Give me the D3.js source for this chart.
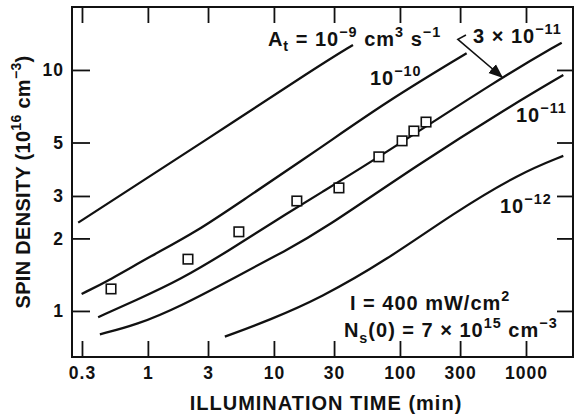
<!DOCTYPE html>
<html>
<head>
<meta charset="utf-8">
<script src="https://cdn.jsdelivr.net/npm/d3@7"></script>
<style>
  body { margin: 0; background: #fff; }
  svg { display: block; }
  text { font-family: "Liberation Sans", Arial, sans-serif; font-weight: bold; fill: #111; }
</style>
</head>
<body>
<script>
// illumination time (min) and spin density (1e16 cm^-3)
const xTicks = [0.3, 1, 3, 10, 30, 100, 300, 1000];
const yTicks = [1, 2, 3, 5, 10];

const dataTime = [0.51, 2.08, 5.27, 15.2, 32.8, 68, 104, 129, 161];
const dataSpin = [1.234, 1.64, 2.13, 2.86, 3.24, 4.36, 5.08, 5.58, 6.08];

// theory curves for different A_t
const curve1e9 = [[0.280, 2.325], [0.531, 2.888], [2.587, 4.93], [23.2, 10.49], [42.4, 12.70]];
const curve1e10 = [[0.298, 1.176], [0.499, 1.345], [1.037, 1.680], [2.435, 2.133], [5.71, 2.888], [23.2, 4.73], [78.4, 7.39], [338, 11.73]];
const curve3e11 = [[0.403, 0.942], [0.813, 1.111], [1.795, 1.345], [4.47, 1.79], [10.5, 2.386], [23.2, 3.078], [69.4, 4.37], [622, 9.24], [1920, 12.98]];
const curve1e11 = [[0.416, 0.800], [0.813, 0.875], [1.795, 1.042], [5.06, 1.388], [12.6, 1.79], [23.2, 2.133], [144, 4.10], [703, 6.93], [1977, 9.53]];
const curve1e12 = [[4.08, 0.782], [9.29, 0.918], [23.2, 1.129], [78.4, 1.627], [265, 2.543], [896, 3.73], [1977, 4.40]];
const curves = [curve1e9, curve1e10, curve3e11, curve1e11, curve1e12];

const W = 574, H = 415;
const svg = d3.select('body').append('svg').attr('width', W).attr('height', H);

const x = d3.scaleLog().domain([0.25, 2360]).range([72, 573]);
const y = d3.scaleLog().domain([0.644, 18.25]).range([357, 7]);

const TICK = 16;

// frame
svg.append('rect')
  .attr('x', x.range()[0]).attr('y', y.range()[1])
  .attr('width', x.range()[1] - x.range()[0])
  .attr('height', y.range()[0] - y.range()[1])
  .attr('fill', 'none').attr('stroke', '#111').attr('stroke-width', 2);

// axes (ticks inward)
const gx = svg.append('g').attr('transform', `translate(0,${y.range()[0]})`)
  .call(d3.axisBottom(x).tickValues(xTicks).tickSize(-TICK).tickPadding(10).tickFormat(d3.format('')));
const gxt = svg.append('g').attr('transform', `translate(0,${y.range()[1]})`)
  .call(d3.axisTop(x).tickValues(xTicks).tickSize(-TICK).tickFormat(''));
const gy = svg.append('g').attr('transform', `translate(${x.range()[0]},0)`)
  .call(d3.axisLeft(y).tickValues(yTicks).tickSize(-18).tickPadding(8).tickFormat(d3.format('')));
const gyr = svg.append('g').attr('transform', `translate(${x.range()[1]},0)`)
  .call(d3.axisRight(y).tickValues(yTicks).tickSize(-TICK).tickFormat(''));

[gx, gxt, gy, gyr].forEach(g => {
  g.select('.domain').remove();
  g.selectAll('line').attr('stroke', '#111').attr('stroke-width', 1.8);
  g.selectAll('text').attr('font-size', 17.5).attr('fill', '#111').attr('letter-spacing', 1)
    .style('font-family', '"Liberation Sans", Arial, sans-serif').style('font-weight', 'bold');
});

// curves
const line = d3.line()
  .x(d => x(d[0]))
  .y(d => y(d[1]))
  .curve(d3.curveBasis);

svg.append('g').selectAll('path')
  .data(curves)
  .join('path')
  .attr('d', line)
  .attr('fill', 'none')
  .attr('stroke', '#111')
  .attr('stroke-width', 2.3);

// data squares
const SQ = 9.5;
svg.append('g').selectAll('rect')
  .data(dataTime.map((t, i) => [t, dataSpin[i]]))
  .join('rect')
  .attr('x', d => x(d[0]) - SQ / 2)
  .attr('y', d => y(d[1]) - SQ / 2)
  .attr('width', SQ).attr('height', SQ)
  .attr('fill', '#fff').attr('stroke', '#111').attr('stroke-width', 1.6);

// labels with super/subscripts: parts are [text, 'sup'|'sub'|undefined]
function label(tx, sy, parts, size) {
  const t = svg.append('text')
    .attr('x', x(tx)).attr('y', y(sy))
    .attr('font-size', size).attr('letter-spacing', 1);
  let off = 0;
  parts.forEach(([s, kind]) => {
    const target = kind === 'sup' ? -size * 0.45 : kind === 'sub' ? size * 0.28 : 0;
    const ts = t.append('tspan').text(s).attr('dy', target - off);
    if (kind) ts.attr('font-size', size * 0.72);
    off = target;
  });
  return t;
}

label(8.96, 12.6, [['A'], ['t', 'sub'], [' = 10'], ['\u22129', 'sup'], [' cm'], ['3', 'sup'], [' s'], ['\u22121', 'sup']], 20);
label(380, 12.9, [['3 \u00d7 10'], ['\u221211', 'sup']], 20);
label(57.8, 8.66, [['10'], ['\u221210', 'sup']], 20);
label(833, 6.09, [['10'], ['\u221211', 'sup']], 20);
label(622, 2.55, [['10'], ['\u221212', 'sup']], 20);
label(40.1, 1.01, [['I = 400 mW/cm'], ['2', 'sup']], 20);
label(35.9, 0.78, [['N'], ['s', 'sub'], ['(0) = 7 \u00d7 10'], ['15', 'sup'], [' cm'], ['\u22123', 'sup']], 20);

// leader + arrow for 3e-11
const arrowPts = [[334, 13.97], [288, 13.4], [645, 9.35]];
svg.append('defs').append('marker')
  .attr('id', 'ah').attr('viewBox', '0 0 10 10').attr('refX', 9).attr('refY', 5)
  .attr('markerWidth', 9).attr('markerHeight', 9).attr('orient', 'auto')
  .append('path').attr('d', 'M0,1 L10,5 L0,9 Z').attr('fill', '#111');
svg.append('path')
  .attr('d', d3.line().x(d => x(d[0])).y(d => y(d[1]))(arrowPts))
  .attr('fill', 'none').attr('stroke', '#111').attr('stroke-width', 1.6)
  .attr('marker-end', 'url(#ah)');

// axis titles
svg.append('text')
  .attr('x', 326).attr('y', 410)
  .attr('text-anchor', 'middle').attr('font-size', 20).attr('letter-spacing', 1)
  .text('ILLUMINATION TIME (min)');

const yt = svg.append('text')
  .attr('transform', 'translate(30,182) rotate(-90)')
  .attr('text-anchor', 'middle').attr('font-size', 20).attr('letter-spacing', 0.3);
yt.append('tspan').text('SPIN DENSITY (10');
yt.append('tspan').text('16').attr('font-size', 14).attr('dy', -9);
yt.append('tspan').text(' cm').attr('dy', 9);
yt.append('tspan').text('\u22123').attr('font-size', 14).attr('dy', -9);
yt.append('tspan').text(')').attr('dy', 9);
</script>
</body>
</html>
